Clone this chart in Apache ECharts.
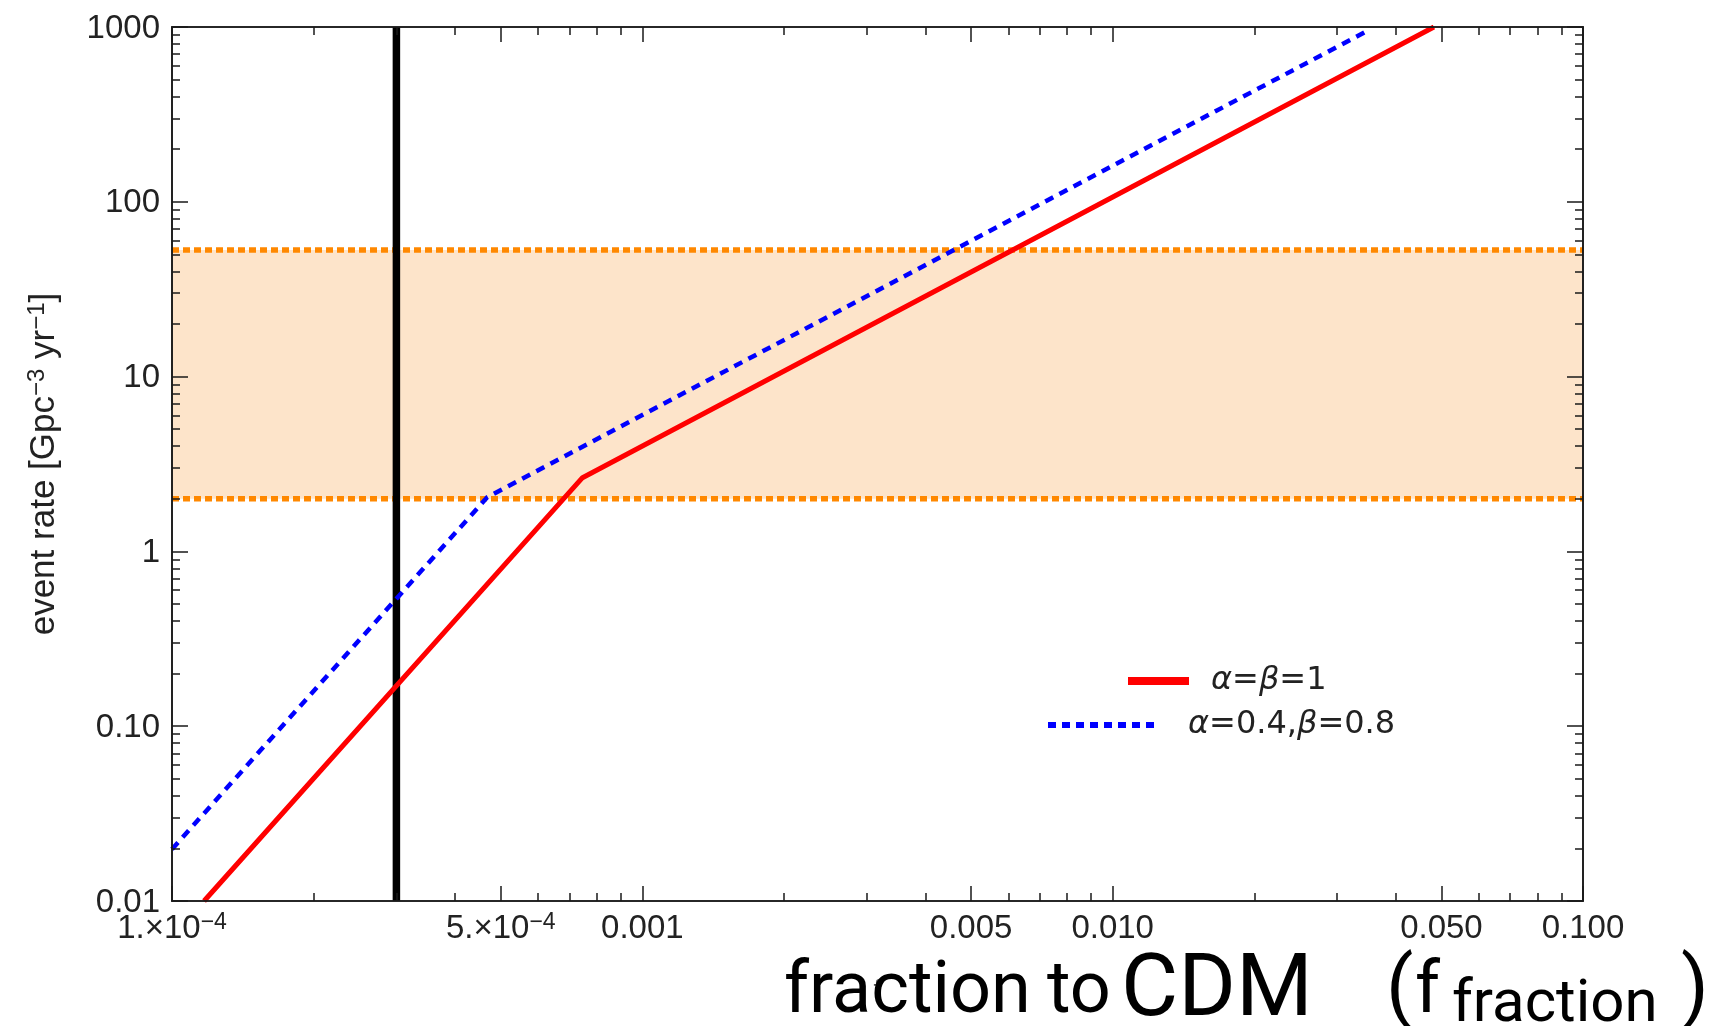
<!DOCTYPE html>
<html><head><meta charset="utf-8">
<script src="https://cdn.jsdelivr.net/npm/echarts@6/dist/echarts.min.js"></script>
<style>html,body{margin:0;padding:0;background:#fff}#c{width:1726px;height:1026px}</style>
</head><body><div id="c"></div>
<script>
// ---- data ----
const xRange = [1e-4, 0.1];
const yRange = [0.01, 1000];
const xMajorTicks = [1e-4, 5e-4, 0.001, 0.005, 0.01, 0.05, 0.1];
const xTickLabels = ['1.×10^−4', '5.×10^−4', '0.001', '0.005', '0.010', '0.050', '0.100'];
const xMinorTicks = [2e-4, 3e-4, 4e-4, 6e-4, 7e-4, 8e-4, 9e-4,
  0.002, 0.003, 0.004, 0.006, 0.007, 0.008, 0.009,
  0.02, 0.03, 0.04, 0.06, 0.07, 0.08, 0.09];
const yMajorTicks = [0.01, 0.1, 1, 10, 100, 1000];
const yTickLabels = ['0.01', '0.10', '1', '10', '100', '1000'];
const yMinorTicks = [0.02, 0.03, 0.04, 0.05, 0.06, 0.07, 0.08, 0.09,
  0.2, 0.3, 0.4, 0.5, 0.6, 0.7, 0.8, 0.9,
  2, 3, 4, 5, 6, 7, 8, 9,
  20, 30, 40, 50, 60, 70, 80, 90,
  200, 300, 400, 500, 600, 700, 800, 900];

const seriesNames = ['α=β=1', 'α=0.4,β=0.8'];
const redF = [1.17e-4, 7.46e-4, 0.0482];
const redRate = [0.01, 2.64, 1000];
const blueF = [1e-4, 4.68e-4, 0.0344];
const blueRate = [0.0198, 2.04, 936];
const cutoffF = 3e-4;
const bandLow = 2;
const bandHigh = 53;

const yTitle = 'event rate [Gpc^−3^ yr^−1^]';
const xName = 'f';
const overlayTitle = ['fraction', 'to', 'CDM', '(', 'f', 'fraction', ')'];

// ---- layout (not data) ----
const overlayLayout = [
  { left: 784, top: 958, size: 72 },
  { left: 1047, top: 958, size: 72 },
  { left: 1121, top: 949, size: 88 },
  { left: 1386, top: 953, size: 80 },
  { left: 1415, top: 958, size: 72 },
  { left: 1452, top: 976, size: 60 },
  { left: 1681, top: 953, size: 80 }
];

// ---- helpers ----
const L = Math.log10;
const pairs = (xs, ys) => xs.map((x, i) => [x, ys[i]]);
const AX = '#1a1a1a';
const FONT = '"Liberation Sans", Arial, sans-serif';
const TFONT = 'Roboto, "Noto Sans", sans-serif';

function labelFor(ticks, labels, v) {
  for (let i = 0; i < ticks.length; i++) if (Math.abs(L(ticks[i]) - v) < 1e-6) return labels[i];
  return '';
}
function supRich(label) {
  const p = label.split('^');
  return p.length > 1 ? '{n|' + p[0] + '}{s|' + p[1] + '}' : '{n|' + p[0] + '}';
}
const tickRich = {
  n: { fontSize: 33, fontFamily: FONT, color: '#222', lineHeight: 36, verticalAlign: 'bottom' },
  s: { fontSize: 23, fontFamily: FONT, color: '#222', lineHeight: 36, verticalAlign: 'bottom', padding: [0, 0, 11, 0] }
};

function tickAxis(kind, pos, ticks, len, withLabels, extra) {
  const range = kind === 'x' ? xRange : yRange;
  const a = {
    type: 'value', position: pos, min: L(range[0]), max: L(range[1]), z: 10,
    splitLine: { show: false },
    axisLine: { show: true, onZero: false, lineStyle: { color: AX, width: 1.6 } },
    axisTick: { show: true, inside: true, length: len, customValues: ticks.map(L), lineStyle: { color: AX, width: 1.5 } },
    axisLabel: { show: false }
  };
  if (withLabels) {
    a.axisLabel = {
      show: true, customValues: ticks.map(L), margin: kind === 'x' ? 8 : 12,
      formatter: v => supRich(labelFor(ticks, withLabels, v)),
      rich: tickRich
    };
  }
  return Object.assign(a, extra || {});
}
function legendFmt(n) {
  return n.replace(/[αβ]/g, c => '{i|' + c + '}').replace(/(^|\})([^{]+)/g, (m, a, b) => a + '{t|' + b + '}');
}
const legendRich = {
  t: { fontSize: 32, fontFamily: '"DejaVu Sans", sans-serif', color: '#222', lineHeight: 36 },
  i: { fontSize: 32, fontFamily: '"DejaVu Sans", sans-serif', fontStyle: 'italic', color: '#222', lineHeight: 36 }
};

const titles = overlayTitle.map((t, i) => ({
  text: t, left: overlayLayout[i].left, top: overlayLayout[i].top, padding: 0, z: 20,
  textStyle: { fontFamily: TFONT, fontWeight: 'normal', fontSize: overlayLayout[i].size,
    lineHeight: overlayLayout[i].size, color: '#000' }
}));

const option = {
  backgroundColor: '#ffffff',
  animation: false,
  grid: { left: 172, right: 143, top: 27, bottom: 125, show: false, containLabel: false, outerBoundsMode: 'none' },
  title: titles,
  legend: [
    {
      data: [seriesNames[0]], left: 1124, top: 665, padding: 0, itemWidth: 61, itemHeight: 14,
      lineStyle: { width: 8, color: '#ff0000' },
      itemStyle: { opacity: 0 },
      formatter: legendFmt,
      textStyle: { padding: [0, 0, 0, 17], rich: legendRich }
    },
    {
      data: [seriesNames[1]], left: 1045, top: 709, padding: 0, itemWidth: 112, itemHeight: 14,
      lineStyle: { width: 6, color: '#0000ff', type: [8, 6] },
      itemStyle: { opacity: 0 },
      formatter: legendFmt,
      textStyle: { padding: [0, 0, 0, 23], rich: legendRich }
    }
  ],
  xAxis: [
    { type: 'log', logBase: 10, min: xRange[0], max: xRange[1], show: false },
    tickAxis('x', 'bottom', xMajorTicks, 15, xTickLabels, {
      name: xName, nameLocation: 'middle', nameGap: 76,
      nameTextStyle: { fontSize: 28, fontFamily: FONT, color: '#555' }
    }),
    tickAxis('x', 'bottom', xMinorTicks, 8, false),
    tickAxis('x', 'top', xMajorTicks, 15, false),
    tickAxis('x', 'top', xMinorTicks, 8, false)
  ],
  yAxis: [
    { type: 'log', logBase: 10, min: yRange[0], max: yRange[1], show: false },
    tickAxis('y', 'left', yMajorTicks, 16, yTickLabels, {
      name: '{a|' + yTitle.replace(/\^([^^]+)\^/g, '}{s|$1}{a|') + '}',
      nameLocation: 'middle', nameGap: 110, nameRotate: 90,
      nameTextStyle: { rich: {
        a: { fontSize: 35, fontFamily: FONT, color: '#222', lineHeight: 40, verticalAlign: 'bottom' },
        s: { fontSize: 24, fontFamily: FONT, color: '#222', lineHeight: 40, verticalAlign: 'bottom', padding: [0, 0, 13, 0] } } }
    }),
    tickAxis('y', 'left', yMinorTicks, 8, false),
    tickAxis('y', 'right', yMajorTicks, 16, false),
    tickAxis('y', 'right', yMinorTicks, 8, false)
  ],
  series: [
    {
      name: 'bandLow', type: 'line', xAxisIndex: 0, yAxisIndex: 0, z: 3, symbol: 'none', silent: true,
      data: [[xRange[0], bandLow], [xRange[1], bandLow]],
      lineStyle: { color: '#ff8800', width: 5.5, type: [7, 4] },
      markArea: { silent: true, itemStyle: { color: '#fde4ca' }, z: 1, data: [[{ yAxis: bandHigh }, { yAxis: bandLow }]] }
    },
    {
      name: 'bandHigh', type: 'line', xAxisIndex: 0, yAxisIndex: 0, z: 3, symbol: 'none', silent: true,
      data: [[xRange[0], bandHigh], [xRange[1], bandHigh]],
      lineStyle: { color: '#ff8800', width: 5.5, type: [7, 4] }
    },
    {
      name: 'cutoff', type: 'line', xAxisIndex: 0, yAxisIndex: 0, z: 5, symbol: 'none', silent: true, clip: false,
      data: [[cutoffF, yRange[0]], [cutoffF, yRange[1]]],
      lineStyle: { color: '#000', width: 7.5 }
    },
    {
      name: seriesNames[1], type: 'line', xAxisIndex: 0, yAxisIndex: 0, z: 6, symbol: 'none',
      data: pairs(blueF, blueRate),
      lineStyle: { color: '#0000ff', width: 4.5, type: [9, 7] }, itemStyle: { color: '#0000ff' }
    },
    {
      name: seriesNames[0], type: 'line', xAxisIndex: 0, yAxisIndex: 0, z: 7, symbol: 'none',
      data: pairs(redF, redRate),
      lineStyle: { color: '#ff0000', width: 5 }, itemStyle: { color: '#ff0000' }
    }
  ]
};
const chart = echarts.init(document.getElementById('c'), null, { renderer: 'canvas' });
chart.setOption(option);
</script></body></html>
